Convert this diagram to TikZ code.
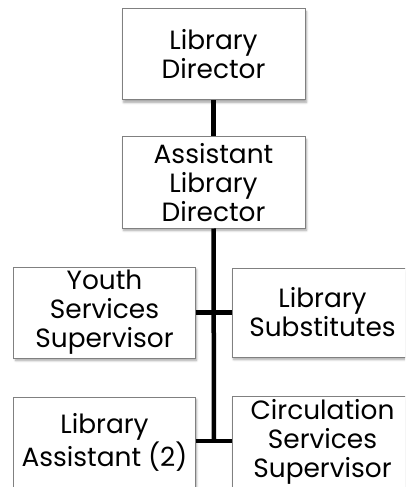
\documentclass[tikz,border=0pt]{standalone}
\usepackage{fontspec}
\setmainfont{Poppins}
\usetikzlibrary{shadows.blur}
\begin{document}
\begin{tikzpicture}[x={(1bp,0)}, y={(0,-1bp)},
  rolebox/.style={draw=black!50, line width=1bp, fill=white, align=center,
    inner sep=0pt, font=\fontsize{26.5}{29}\selectfont,
    blur shadow={shadow xshift=1.5bp, shadow yshift=-2.5bp, shadow blur steps=6,
      shadow opacity=35, shadow blur extra rounding=0.5bp}},
  link/.style={line width=4.5bp}]
\useasboundingbox (0,0) rectangle (405,487);
\clip (0,0) rectangle (405,487);
% directors
\node[rolebox, minimum width=183bp, minimum height=91bp] (dir) at (213.5,54.5) {Library\\Director};
\node[rolebox, minimum width=183bp, minimum height=91bp] (adir) at (213.5,182.5) {Assistant\\Library\\Director};
% staff
\node[rolebox, minimum width=181bp, minimum height=91bp] (youth) at (104.5,312.5) {Youth\\Services\\Supervisor};
\node[rolebox, minimum width=181bp, minimum height=89bp] (subs) at (322.5,312.5) {Library\\Substitutes};
\node[rolebox, minimum width=181bp, minimum height=91bp] (asst) at (104.5,442.5) {Library\\Assistant (2)};
\node[rolebox, minimum width=181bp, minimum height=91bp] (circ) at (322.5,441.5) {Circulation\\Services\\Supervisor};
% connectors
\coordinate (trunk) at (214,441);
\draw[link] (dir.south) -- (adir.north);
\draw[link] (adir.south) -- (trunk);
\draw[link] (youth.east) -- (subs.west);
\draw[link] (asst.east |- trunk) -- (circ.west |- trunk);
\end{tikzpicture}
\end{document}
